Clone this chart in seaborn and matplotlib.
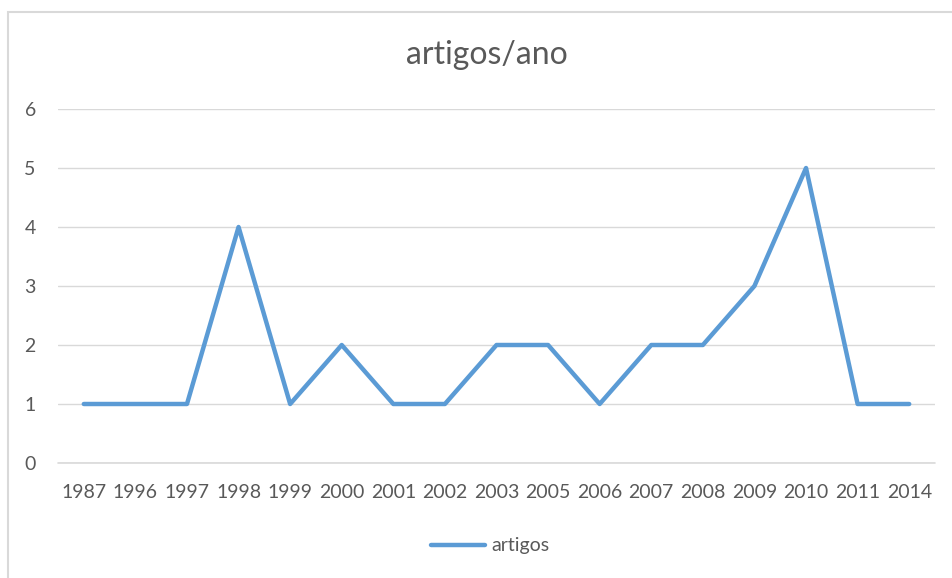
import matplotlib
matplotlib.use("Agg")
import matplotlib.pyplot as plt
import seaborn as sns
import pandas as pd
from matplotlib.patches import Rectangle

anos = ["1987", "1996", "1997", "1998", "1999", "2000", "2001", "2002", "2003",
        "2005", "2006", "2007", "2008", "2009", "2010", "2011", "2014"]
artigos = [1, 1, 1, 4, 1, 2, 1, 1, 2, 2, 1, 2, 2, 3, 5, 1, 1]

df = pd.DataFrame({"ano": anos, "artigos": artigos})

sns.set_theme(style="white")
plt.rcParams['font.family'] = ['Lato', 'DejaVu Sans']
text_color = "#595959"
grid_color = "#d9d9d9"
line_color = "#5b9bd5"

fig = plt.figure(figsize=(9.52, 5.78), dpi=100)
ax = fig.add_axes([58 / 952, 1 - 463 / 578, 877 / 952, 354 / 578])

sns.lineplot(data=df, x="ano", y="artigos", ax=ax, color=line_color,
             linewidth=3.2, sort=False, label="artigos")

ax.set_xlim(-0.5, len(anos) - 0.5)
ax.set_ylim(0, 6)
ax.set_yticks(range(0, 7))
ax.grid(axis="y", color=grid_color, linewidth=1)
ax.axhline(0, color=grid_color, linewidth=1.2, clip_on=False, zorder=0.5)
ax.set_axisbelow(True)
for s in ax.spines.values():
    s.set_visible(False)
ax.tick_params(axis="both", length=0, labelsize=14, colors=text_color)
ax.tick_params(axis="x", pad=15)
ax.tick_params(axis="y", pad=16)
ax.set_xlabel("")
ax.set_ylabel("")

fig.text(0.511, 1 - 55 / 578, "artigos/ano", ha="center", va="center",
         fontsize=23, color=text_color)

ax.legend(loc="center", bbox_to_anchor=(490 / 952, 1 - 546 / 578),
          bbox_transform=fig.transFigure, frameon=False, fontsize=14,
          labelcolor=text_color, handlelength=2.8, handletextpad=0.3)

# light frame around chart (only top/left visible in the crop)
fig.patches.append(Rectangle((8 / 952, -0.1), 1.2, 1 - 12 / 578 + 0.1,
                             transform=fig.transFigure, fill=False,
                             edgecolor="#d9d9d9", linewidth=1.5))

fig.savefig("out.png", dpi=100, facecolor="white")
